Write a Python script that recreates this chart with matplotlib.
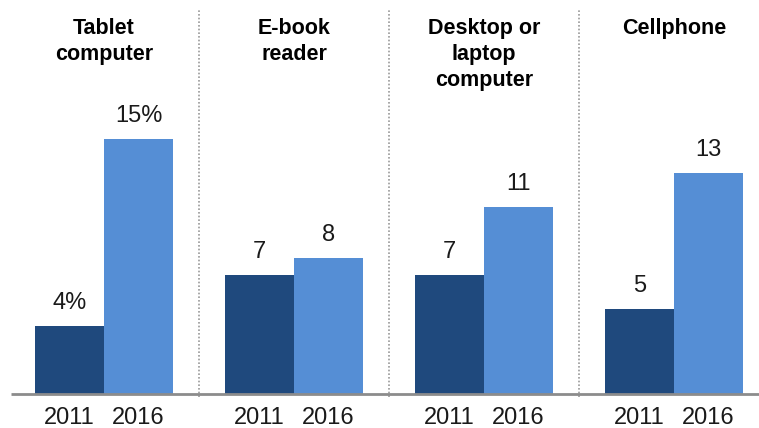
import numpy as np
import matplotlib.pyplot as plt

categories = ['Tablet\ncomputer', 'E-book\nreader', 'Desktop or\nlaptop\ncomputer', 'Cellphone']
years = ['2011', '2016']
vals_2011 = [4, 7, 7, 5]
vals_2016 = [15, 8, 11, 13]
labels_2011 = ['4%', '7', '7', '5']
labels_2016 = ['15%', '8', '11', '13']

dark = '#1f497d'
light = '#558ed5'

W, H = 759, 428
fig = plt.figure(figsize=(W / 100, H / 100), dpi=100)
base_px = 394
ax = fig.add_axes([0, (H - base_px) / H, 1, base_px / H])

px_per_unit_x = 190.0
x0_px = 9.0
ax.set_xlim(-x0_px / px_per_unit_x, (W - x0_px) / px_per_unit_x)
ax.set_ylim(0, base_px / 17.0)
ax.axis('off')

bw = 69 / px_per_unit_x
centers = np.arange(len(categories)) + 0.5
xd = centers - bw / 2
xl = centers + bw / 2

ax.bar(xd, vals_2011, width=bw, color=dark, zorder=2)
ax.bar(xl, vals_2016, width=bw, color=light, zorder=2)

# baseline
ax.plot([0.01, 5], [0, 0], color='#8c8c8c', lw=2, zorder=3, clip_on=False, solid_capstyle='butt')

# dotted separators
for s in range(1, len(categories)):
    ax.plot([s, s], [-3 / 17, (base_px - 10) / 17], color='#9a9a9a', lw=1.2,
            linestyle=(0, (1, 1.2)), zorder=1, clip_on=False)

num_font = dict(family='Liberation Sans', fontsize=17, color='#1a1a1a')
for x, v, t in zip(xd, vals_2011, labels_2011):
    ax.annotate(t, (x, v), xytext=(0, 12), textcoords='offset points',
                ha='center', va='baseline', **num_font)
for x, v, t in zip(xl, vals_2016, labels_2016):
    ax.annotate(t, (x, v), xytext=(0, 12), textcoords='offset points',
                ha='center', va='baseline', **num_font)

for c in range(len(categories)):
    for x, y in zip([xd[c], xl[c]], years):
        ax.annotate(y, (x, 0), xytext=(0, -21.3), textcoords='offset points',
                    ha='center', va='baseline', **num_font)
    ax.annotate(categories[c], (centers[c], 1), xycoords=('data', 'axes fraction'),
                xytext=(0, -13), textcoords='offset points', ha='center', va='top',
                family='Liberation Sans', fontweight='bold', fontsize=15.5,
                linespacing=1.3, color='black')

fig.savefig('out.png', dpi=100, facecolor='white')
